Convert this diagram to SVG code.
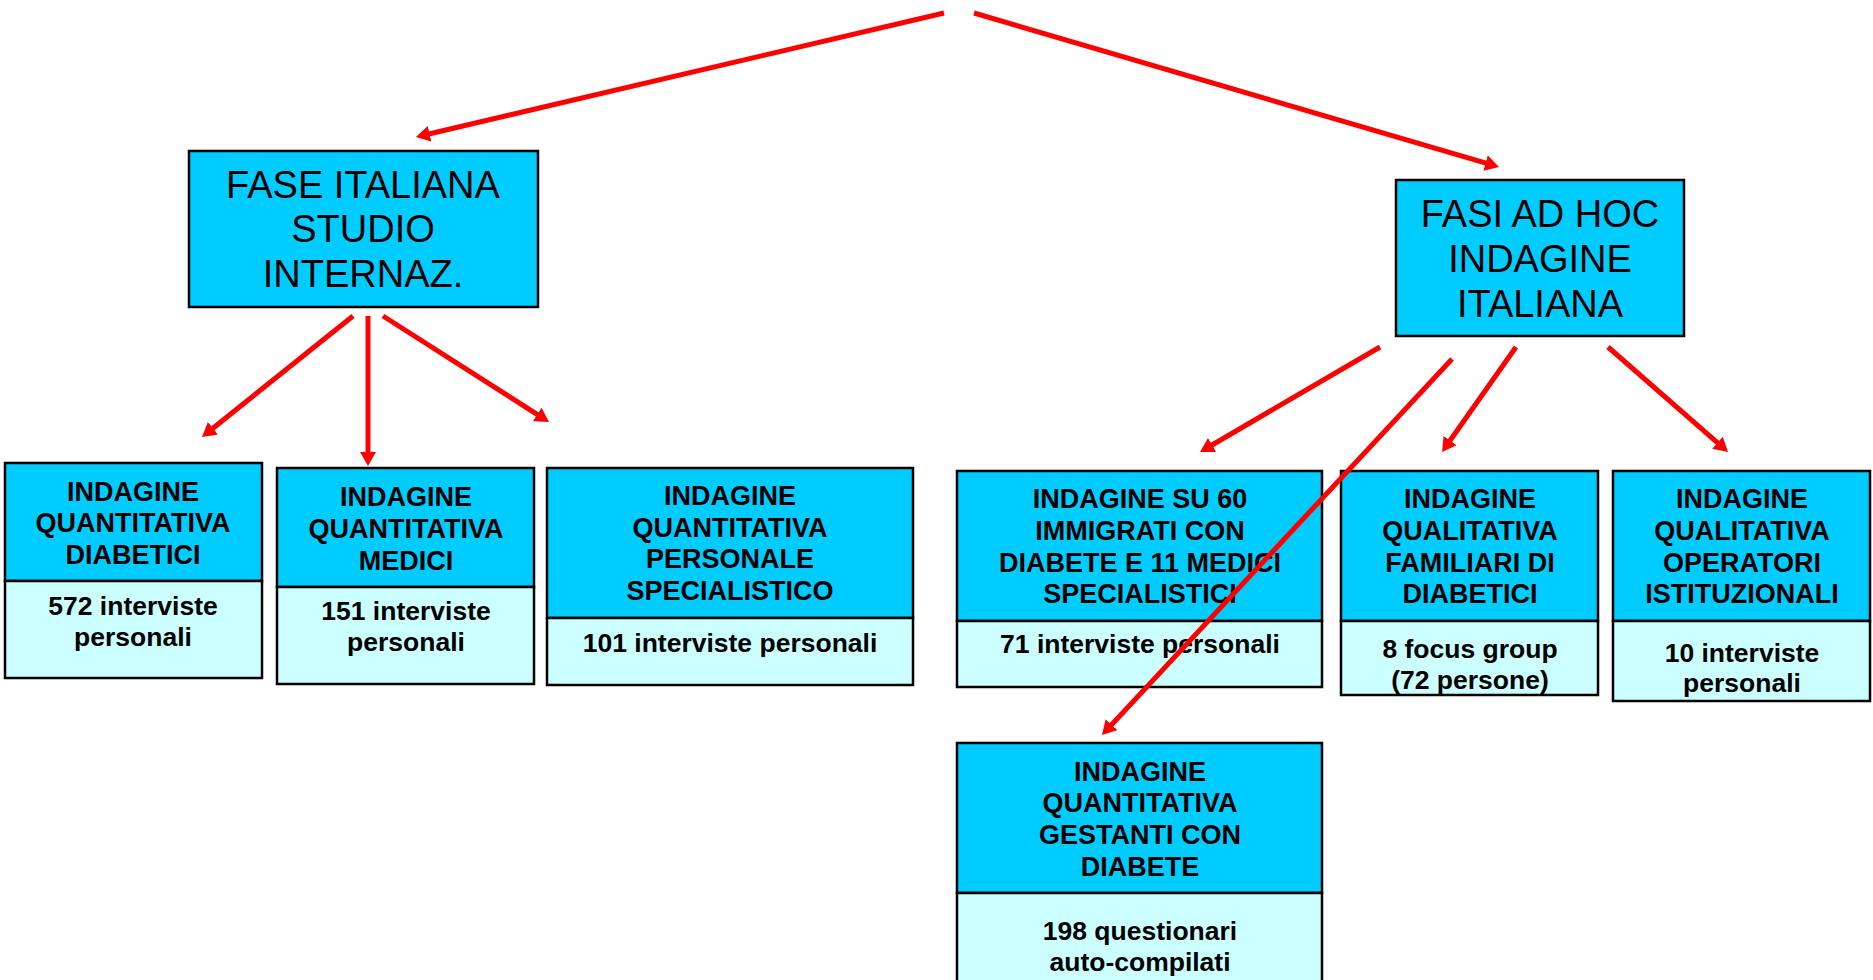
<svg xmlns="http://www.w3.org/2000/svg" width="1873" height="980" viewBox="0 0 1873 980">
<style>
.hd{fill:#00CCFF;stroke:#000;stroke-width:2.5}
.lo{fill:#CCFFFF;stroke:#000;stroke-width:2.5}
.big{font-family:"Liberation Sans",Arial,sans-serif;font-size:38px;fill:#000;text-anchor:middle}
.t{font-family:"Liberation Sans",Arial,sans-serif;font-size:27px;font-weight:bold;fill:#000;text-anchor:middle}
.b{font-family:"Liberation Sans",Arial,sans-serif;font-size:26.5px;font-weight:bold;fill:#000;text-anchor:middle}
.ar{stroke:#FF0000;stroke-width:5;fill:none;marker-end:url(#ah)}
</style>
<defs>
<marker id="ah" viewBox="0 0 14 16" refX="4" refY="8" markerWidth="14" markerHeight="16" markerUnits="userSpaceOnUse" orient="auto">
<path d="M0,0 L14,8 L0,16 z" fill="#FF0000"/>
</marker>
</defs>
<rect width="1873" height="980" fill="#fff"/>
<g id="fase-italiana">
<rect class="hd" x="189" y="151" width="349" height="156"/>
<text class="big" x="363" y="198">FASE ITALIANA</text>
<text class="big" x="363" y="242">STUDIO</text>
<text class="big" x="363" y="287">INTERNAZ.</text>
</g>
<g id="fasi-ad-hoc">
<rect class="hd" x="1396" y="180" width="288" height="156"/>
<text class="big" x="1540" y="227">FASI AD HOC</text>
<text class="big" x="1540" y="272">INDAGINE</text>
<text class="big" x="1540" y="317">ITALIANA</text>
</g>
<g id="diabetici">
<rect class="hd" x="5" y="463" width="257" height="118"/>
<rect class="lo" x="5" y="581" width="257" height="97"/>
<text class="t" x="133" y="501">INDAGINE</text>
<text class="t" x="133" y="532">QUANTITATIVA</text>
<text class="t" x="133" y="564">DIABETICI</text>
<text class="b" x="133" y="615">572 interviste</text>
<text class="b" x="133" y="646">personali</text>
</g>
<g id="medici">
<rect class="hd" x="277" y="468" width="257" height="119"/>
<rect class="lo" x="277" y="587" width="257" height="97"/>
<text class="t" x="406" y="506">INDAGINE</text>
<text class="t" x="406" y="538">QUANTITATIVA</text>
<text class="t" x="406" y="570">MEDICI</text>
<text class="b" x="406" y="620">151 interviste</text>
<text class="b" x="406" y="651">personali</text>
</g>
<g id="specialistico">
<rect class="hd" x="547" y="468" width="366" height="150"/>
<rect class="lo" x="547" y="618" width="366" height="67"/>
<text class="t" x="730" y="505">INDAGINE</text>
<text class="t" x="730" y="537">QUANTITATIVA</text>
<text class="t" x="730" y="568">PERSONALE</text>
<text class="t" x="730" y="600">SPECIALISTICO</text>
<text class="b" x="730" y="652">101 interviste personali</text>
</g>
<g id="immigrati">
<rect class="hd" x="957" y="471" width="365" height="150"/>
<rect class="lo" x="957" y="621" width="365" height="66"/>
<text class="t" x="1140" y="508">INDAGINE SU 60</text>
<text class="t" x="1140" y="540">IMMIGRATI CON</text>
<text class="t" x="1140" y="572">DIABETE E 11 MEDICI</text>
<text class="t" x="1140" y="603">SPECIALISTICI</text>
<text class="b" x="1140" y="653">71 interviste personali</text>
</g>
<g id="familiari">
<rect class="hd" x="1341" y="471" width="257" height="150"/>
<rect class="lo" x="1341" y="621" width="257" height="74"/>
<text class="t" x="1470" y="508">INDAGINE</text>
<text class="t" x="1470" y="540">QUALITATIVA</text>
<text class="t" x="1470" y="572">FAMILIARI DI</text>
<text class="t" x="1470" y="603">DIABETICI</text>
<text class="b" x="1470" y="658">8 focus group</text>
<text class="b" x="1470" y="689">(72 persone)</text>
</g>
<g id="operatori">
<rect class="hd" x="1613" y="471" width="257" height="150"/>
<rect class="lo" x="1613" y="621" width="257" height="80"/>
<text class="t" x="1742" y="508">INDAGINE</text>
<text class="t" x="1742" y="540">QUALITATIVA</text>
<text class="t" x="1742" y="572">OPERATORI</text>
<text class="t" x="1742" y="603">ISTITUZIONALI</text>
<text class="b" x="1742" y="662">10 interviste</text>
<text class="b" x="1742" y="692">personali</text>
</g>
<g id="gestanti">
<rect class="hd" x="957" y="743" width="365" height="150"/>
<rect class="lo" x="957" y="893" width="365" height="110"/>
<text class="t" x="1140" y="781">INDAGINE</text>
<text class="t" x="1140" y="812">QUANTITATIVA</text>
<text class="t" x="1140" y="844">GESTANTI CON</text>
<text class="t" x="1140" y="876">DIABETE</text>
<text class="b" x="1140" y="940">198 questionari</text>
<text class="b" x="1140" y="971">auto-compilati</text>
</g>
<g id="connectors">
<line class="ar" x1="944" y1="13" x2="425.7" y2="134.7"/>
<line class="ar" x1="974" y1="13" x2="1489.4" y2="164.2"/>
<line class="ar" x1="353" y1="316" x2="209.8" y2="430.7"/>
<line class="ar" x1="368" y1="316" x2="368" y2="456"/>
<line class="ar" x1="383" y1="316" x2="540.6" y2="416.6"/>
<line class="ar" x1="1380" y1="347" x2="1208.6" y2="447"/>
<line class="ar" x1="1452" y1="359" x2="1108.8" y2="727.7"/>
<line class="ar" x1="1516" y1="347" x2="1447.8" y2="443.8"/>
<line class="ar" x1="1608" y1="347" x2="1720.5" y2="445.4"/>
</g>
</svg>
